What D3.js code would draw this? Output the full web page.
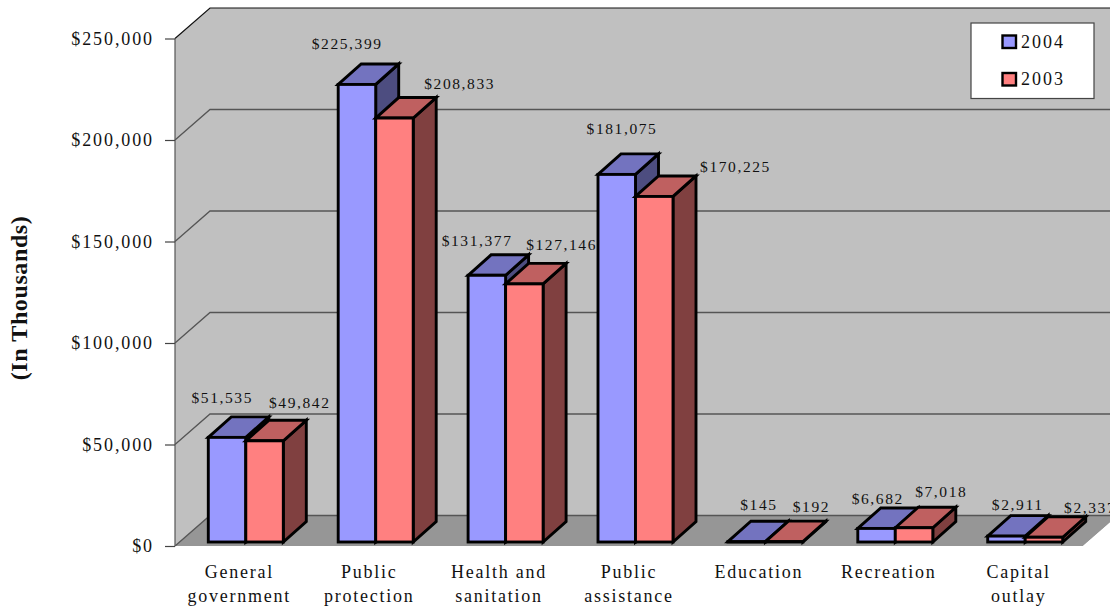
<!DOCTYPE html>
<html><head><meta charset="utf-8">
<script src="https://cdn.jsdelivr.net/npm/d3@7/dist/d3.min.js"></script>
<style>html,body{margin:0;padding:0;background:#fff}svg{display:block}text{font-family:"Liberation Serif",serif;fill:#111}</style>
</head><body><div id="c"></div>
<script>
const categories=[["General","government"],["Public","protection"],["Health and","sanitation"],["Public","assistance"],["Education"],["Recreation"],["Capital","outlay"]];
const catKeys=categories.map(c=>c.join(" "));
const series=["2004","2003"];
const values2004=[51535,225399,131377,181075,145,6682,2911];
const values2003=[49842,208833,127146,170225,192,7018,2337];
const yTicks=[0,50000,100000,150000,200000,250000];
// label placement offsets (relative to bar left / bar top)
const labelDx2004=[14,9,9,24,31,20,30], labelDy2004=[-14,-15,-9,-20,-11,-4,-6];
const labelDx2003=[54,84,56,100,46,46,65], labelDy2003=[-12,-9,-13,-4,-9,-10,-4];

const W=1110,H=606;
const svg=d3.select("#c").append("svg").attr("width",W).attr("height",H);
const x0=175,y0=546,yTop=38.5,depX=35,depY=30.5,wallR=1160;
const floorR=1083;
const y=d3.scaleLinear().domain([0,250000]).range([y0,yTop]);
const x=d3.scaleBand().domain(catKeys).range([208.3,208.3+6*129.9+75]).paddingInner(1-75/129.9).paddingOuter(0);
const xs=d3.scaleBand().domain(series).range([0,x.bandwidth()]);
const barLift=4,bDx=23,bDy=20.5;
const poly=(pts)=>d3.line()(pts)+"Z";

// walls
svg.append("path").attr("d",poly([[x0,y(250000)],[x0+depX,y(250000)-depY],[wallR,y(250000)-depY],[wallR,y0-depY],[x0+depX,y0-depY],[x0,y0]])).attr("fill","#c0c0c0");
svg.append("path").attr("d",poly([[x0,y0],[x0+depX,y0-depY],[floorR+depX,y0-depY],[floorR,y0]])).attr("fill","#969696");
svg.append("path").attr("d",poly([[floorR,y0],[floorR+depX,y0-depY],[W+10,y0-depY],[W+10,y0]])).attr("fill","#fff");
// gridlines
yTicks.forEach(t=>{
  svg.append("path").attr("d",d3.line()([[x0,y(t)],[x0+depX,y(t)-depY],[t===0?floorR+depX:W,y(t)-depY]])).attr("fill","none").attr("stroke",t===250000?"#111":"#555").attr("stroke-width",t===250000?1.2:1.3);
});
svg.append("line").attr("x1",x0).attr("x2",x0).attr("y1",y(250000)).attr("y2",y0).attr("stroke","#555").attr("stroke-width",1.2);
// y axis
const ax=svg.append("g").attr("transform",`translate(${x0},0)`).call(d3.axisLeft(y).tickValues(yTicks).tickSize(10).tickPadding(11).tickFormat(d=>"$"+d3.format(",")(d)));
ax.select(".domain").remove();
ax.selectAll("line").attr("stroke","#444").attr("stroke-width",1.2);
ax.selectAll("text").attr("font-size",18).attr("letter-spacing",1.9).style("font-family",'"Liberation Serif",serif').attr("fill","#111");

// bars
const fills={"2004":["#9999ff","#7373bf","#4d4d80"],"2003":["#ff8080","#bf6060","#804040"]};
const dataBy={"2004":values2004,"2003":values2003};
const g=svg.append("g").attr("stroke","#000").attr("stroke-width",2.9).attr("stroke-linejoin","miter");
catKeys.forEach((k,i)=>series.forEach(s=>{
  const v=dataBy[s][i],l=x(k)+xs(s),r=l+xs.bandwidth(),t=y(v)-barLift,b=y(0)-barLift,c=fills[s];
  g.append("path").attr("d",poly([[r,t],[r+bDx,t-bDy],[r+bDx,b-bDy],[r,b]])).attr("fill",c[2]);
  g.append("path").attr("d",poly([[l,t],[l+bDx,t-bDy],[r+bDx,t-bDy],[r,t]])).attr("fill",c[1]);
  g.append("rect").attr("x",l).attr("y",t).attr("width",r-l).attr("height",b-t).attr("fill",c[0]);
}));
// data labels
const fmt=d=>"$"+d3.format(",")(d);
[["2004",labelDx2004,labelDy2004],["2003",labelDx2003,labelDy2003]].forEach(([s,dx,dy])=>{
  svg.append("g").selectAll("text").data(dataBy[s]).join("text")
   .attr("x",(d,i)=>x(catKeys[i])+xs(s)+dx[i])
   .attr("y",(d,i)=>y(d)-barLift-bDy+dy[i])
   .attr("text-anchor","middle").attr("font-size",15.5).attr("letter-spacing",1.6).attr("fill","#222").text(fmt);
});
// category labels
const cg=svg.append("g");
categories.forEach((c,i)=>{
  const cx=x(catKeys[i])+x.bandwidth()/2-6.5;
  const t=cg.append("text").attr("text-anchor","middle").attr("font-size",18).attr("letter-spacing",1.75);
  c.forEach((ln,j)=>t.append("tspan").attr("x",cx).attr("y",578+j*24).text(ln));
});
// axis title
svg.append("text").attr("transform","translate(26.5,298) rotate(-90)").attr("text-anchor","middle").attr("font-size",24).attr("font-weight","bold").attr("letter-spacing",.6).attr("fill","#000").text("(In Thousands)");
// legend
const lg=svg.append("g");
lg.append("rect").attr("x",971).attr("y",23).attr("width",123).attr("height",75.5).attr("fill","#fff").attr("stroke","#444").attr("stroke-width",1.2);
series.forEach((s,i)=>{
  const yy=41.5+i*37.5;
  lg.append("rect").attr("x",1002.5).attr("y",yy-6).attr("width",13.5).attr("height",12.5).attr("fill",fills[s][0]).attr("stroke","#000").attr("stroke-width",2.4);
  lg.append("text").attr("x",1021).attr("y",yy+6).attr("font-size",18).attr("letter-spacing",2).text(s);
});
</script></body></html>
